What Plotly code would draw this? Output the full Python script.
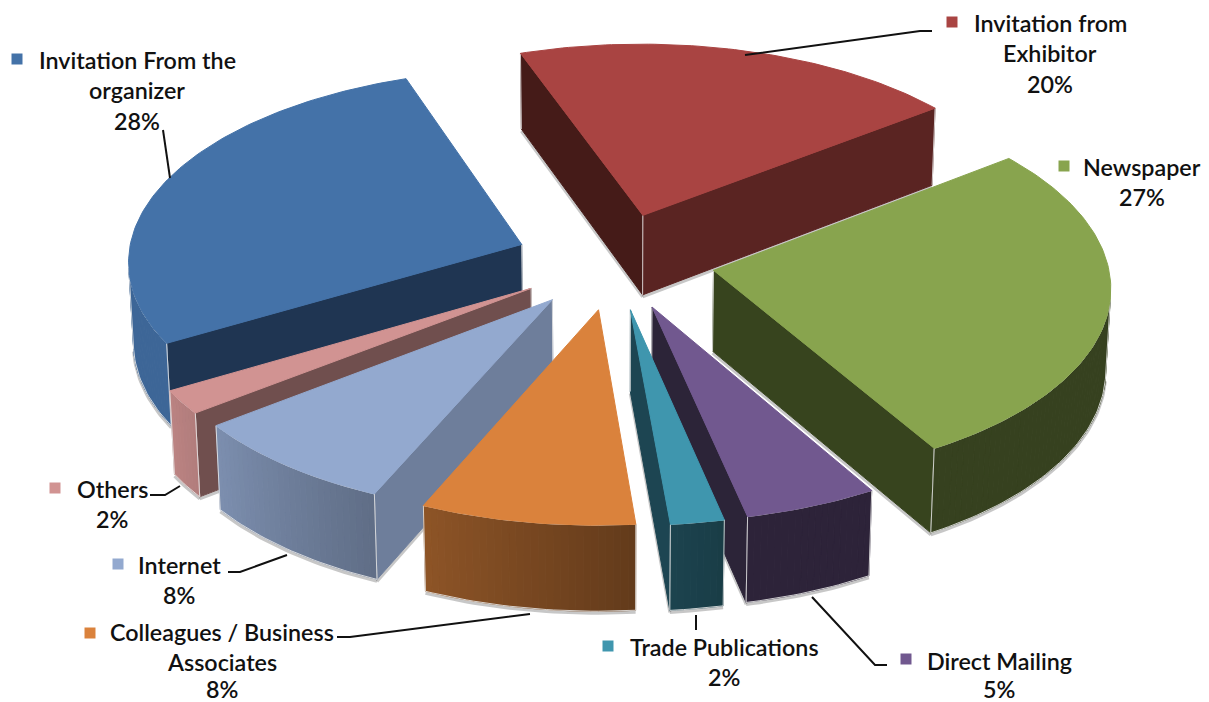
"""Exploded 3D-look pie of how visitors heard about the show."""

import numpy as np
import plotly.graph_objects as go

categories = [
    "Invitation from Exhibitor", "Newspaper", "Direct Mailing", "Trade Publications",
    "Colleagues / Business Associates", "Internet", "Others", "Invitation From the organizer",
]
shares = [20, 27, 5, 2, 8, 8, 2, 28]
label_lines = [
    ["Invitation from", "Exhibitor"], ["Newspaper"], ["Direct Mailing"], ["Trade Publications"],
    ["Colleagues / Business", "Associates"], ["Internet"], ["Others"], ["Invitation From the", "organizer"],
]

# styles, same order as categories
top_colors = ["#A94442", "#88A44E", "#71588F", "#3F96AE", "#DA823C", "#93A9CF", "#D19392", "#4472A8"]
start_faces = ["#451B18", "#37441E", "#2C2438", "#1D4552", "#6E4420", "#6E7E9B", "#704F4E", "#1F3552"]
end_faces = ["#5A2422", "#37441E", "#2C2438", "#1D4552", "#6E4420", "#6E7E9B", "#704F4E", "#1F3552"]

# label anchors: centre x, y of first line, marker x, marker y
label_pos = [
    (1050, 23, 952, 22), (1142, 167, 1064, 166), (999, 661, 906, 659), (724, 647, 608, 646),
    (222, 632, 90, 633), (179, 565, 118, 564), (112, 489, 55, 488), (137, 60, 17, 59),
]
leaders = [
    [(745, 55), (920, 31), (932, 31)], [], [(812, 597), (875, 665), (887, 665)], [(696, 630), (696, 615)],
    [(337, 637), (350, 637), (530, 614)], [(228, 572), (240, 572), (287, 555)],
    [(150, 495), (165, 495), (180, 486)], [(163, 130), (170, 178)],
]

START_ANGLE = -19.5
CX, CY = 615, 261
RADIUS, EXPLODE, HEIGHT = 394, 100, 93
TILT = np.radians(29)
DIST = 4500
EDGE = "rgba(232,232,232,0.85)"
FONT = {"family": "Lato, Carlito, Calibri, sans-serif", "size": 23.3, "color": "#111111", "weight": 600}


def project(x, y, z):
    x, y, z = np.asarray(x, float), np.asarray(y, float), np.asarray(z, float)
    up = z * np.cos(TILT) - y * np.sin(TILT)
    scale = DIST / (DIST - y * np.cos(TILT) - z * np.sin(TILT))
    return CX + scale * x, CY - scale * up


def visible(nx, ny, px, py):
    cam_y, cam_z = DIST * np.cos(TILT), DIST * np.sin(TILT)
    return nx * (0 - px) + ny * (cam_y - py) > 0


def shade_hex(color, factor):
    rgb = [int(color[i:i + 2], 16) for i in (1, 3, 5)]
    return "#" + "".join(f"{int(c * factor):02x}" for c in rgb)


def wall_shade(deg):
    return float(np.clip(0.40 + (deg - 167) * 0.5 / 73, 0.40, 0.90))


def poly(fig, xs, ys, color, name=None):
    fig.add_trace(go.Scatter(
        x=xs, y=ys, mode="lines", fill="toself", fillcolor=color, line={"color": color, "width": 1},
        hoverinfo="text" if name else "skip", text=name, showlegend=False,
    ))


def edge(fig, xs, ys, color=EDGE, width=1.0):
    fig.add_trace(go.Scatter(
        x=xs, y=ys, mode="lines", line={"color": color, "width": width}, hoverinfo="skip", showlegend=False,
    ))


def draw_slice(fig, i, a0, a1):
    mid = np.radians((a0 + a1) / 2)
    ox, oy = EXPLODE * np.sin(mid), -EXPLODE * np.cos(mid)
    deg = np.linspace(a0, a1, max(int(a1 - a0) + 2, 4))
    rad = np.radians(deg)
    rim_x, rim_y = ox + RADIUS * np.sin(rad), oy - RADIUS * np.cos(rad)

    for ang, color, sign in ((a0, start_faces[i], -1), (a1, end_faces[i], 1)):
        t = np.radians(ang)
        nx, ny = sign * np.cos(t), sign * np.sin(t)
        ex, ey = ox + RADIUS * np.sin(t), oy - RADIUS * np.cos(t)
        if visible(nx, ny, ox, oy):
            sx, sy = project([ox, ex, ex, ox, ox], [oy, ey, ey, oy, oy], [0, 0, -HEIGHT, -HEIGHT, 0])
            edge(fig, sx[[3, 2]], sy[[3, 2]] + 2, "rgba(0,0,0,0.22)", 3)
            poly(fig, sx, sy, color)
            edge(fig, sx[[0, 3]], sy[[0, 3]])
            edge(fig, sx[[1, 2]], sy[[1, 2]])

    keep = visible(np.sin(rad), -np.cos(rad), rim_x, rim_y)
    if keep.any():
        bx, by = project(rim_x[keep], rim_y[keep], np.full(keep.sum(), -HEIGHT))
        edge(fig, bx, by + 2, "rgba(0,0,0,0.22)", 3)
        kept = np.flatnonzero(keep)
        for k0, k1 in zip(kept[:-1], kept[1:]):
            sx, sy = project(rim_x[[k0, k1, k1, k0, k0]], rim_y[[k0, k1, k1, k0, k0]], [0, 0, -HEIGHT, -HEIGHT, 0])
            poly(fig, sx, sy, shade_hex(top_colors[i], wall_shade((deg[k0] + deg[k1]) / 2 % 360)))
        tx, ty = project(rim_x[keep], rim_y[keep], np.zeros(keep.sum()))
        edge(fig, tx, ty)
        edge(fig, bx, by)
        edge(fig, [tx[0], bx[0]], [ty[0], by[0]])
        edge(fig, [tx[-1], bx[-1]], [ty[-1], by[-1]])

    top_x, top_y = project(np.r_[ox, rim_x, ox], np.r_[oy, rim_y, oy], np.zeros(len(rim_x) + 2))
    poly(fig, top_x, top_y, top_colors[i], f"{categories[i]}: {shares[i]}%")


fig = go.Figure()

edges = START_ANGLE + np.r_[0, np.cumsum(shares)] * 3.6
spans = list(zip(edges[:-1], edges[1:]))
order = sorted(range(len(shares)), key=lambda i: -np.cos(np.radians(sum(spans[i]) / 2)))
for i in order:
    draw_slice(fig, i, *spans[i])

annotations = []
for i, (lx, ly, mx, my) in enumerate(label_pos):
    for row, text in enumerate(label_lines[i] + [f"{shares[i]}%"]):
        y = min(ly + row * 30 + (1 if row == 2 else 0), 689)
        annotations.append({
            "x": lx, "y": y, "text": text, "showarrow": False,
            "xanchor": "center", "yanchor": "middle", "font": FONT,
        })
    fig.add_trace(go.Scatter(
        x=[mx], y=[my], mode="markers", hoverinfo="skip", showlegend=False,
        marker={"symbol": "square", "size": 11, "color": top_colors[i]},
    ))
    if leaders[i]:
        xs, ys = zip(*leaders[i])
        edge(fig, xs, ys, "#111111", 2)

fig.update_layout(
    width=1209, height=702, margin={"l": 0, "r": 0, "t": 0, "b": 0},
    paper_bgcolor="white", plot_bgcolor="white", annotations=annotations, showlegend=False,
    xaxis={"range": [0, 1209], "visible": False, "fixedrange": True},
    yaxis={"range": [702, 0], "visible": False, "fixedrange": True},
)
fig.write_html(
    "out.html",
    config={"displayModeBar": False},
    post_script="document.body.style.margin='0';document.documentElement.style.overflow='hidden';",
)
